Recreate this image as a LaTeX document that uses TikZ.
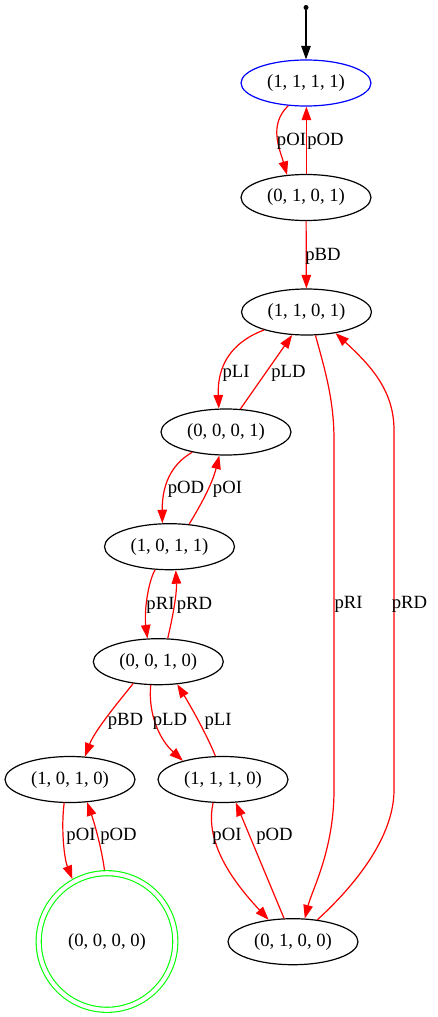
\documentclass[tikz,border=0pt]{standalone}
\usepackage{fontspec}
\setmainfont{Liberation Serif}
\usetikzlibrary{shapes.geometric,arrows.meta}
\definecolor{gvred}{RGB}{255,0,0}
\definecolor{gvgreen}{RGB}{0,255,0}
\definecolor{gvblue}{RGB}{0,0,255}
\begin{document}
\begin{tikzpicture}[x=1pt,y=-1pt,
  txt/.style={font=\fontsize{18.67}{22}\selectfont},
  state/.style={ellipse,draw=black,line width=1.2pt,minimum width=130pt,
    minimum height=46pt,inner sep=0pt,txt},
  final/.style={circle,draw=gvgreen,line width=1.1pt,double=white,
    double distance=4pt,outer sep=3.2pt,minimum size=136.6pt,inner sep=0pt,txt},
  tip/.style={-{Triangle[length=13.5pt,width=9.5pt]}},
  edge/.style={draw=gvred,line width=1.2pt,tip},
  elabel/.style={txt,text=black,inner sep=0pt}]
\useasboundingbox (0,0) rectangle (437,1017);

% states
\node[circle,fill=black,inner sep=0pt,minimum size=5pt] (start) at (306,7.5) {};
\node[state,draw=gvblue] (n1111) at (306,83) {(1, 1, 1, 1)};
\node[state] (n0101) at (306,197.5) {(0, 1, 0, 1)};
\node[state] (n1101) at (306.5,312) {(1, 1, 0, 1)};
\node[state] (n0001) at (226,432) {(0, 0, 0, 1)};
\node[state] (n1011) at (169.5,546.7) {(1, 0, 1, 1)};
\node[state] (n0010) at (158.3,661.7) {(0, 0, 1, 0)};
\node[state] (n1010) at (70,779.5) {(1, 0, 1, 0)};
\node[state] (n1110) at (223,779.5) {(1, 1, 1, 0)};
\node[final] (n0000) at (107,941.5) {(0, 0, 0, 0)};
\node[state] (n0100) at (293,941.7) {(0, 1, 0, 0)};

% initial arrow
\draw[black,line width=1.2pt,tip] (start) -- (n1111);

% transitions
\draw[edge] (n1111.232) .. controls (268,125) and (280,150) .. (n0101.130)
  node[elabel,at={(291.5,141.7)}] {pOI};
\draw[edge] (n0101.89) -- (n1111.271)
  node[elabel,at={(325.5,141.7)}] {pOD};
\draw[edge] (n0101) -- (n1101)
  node[elabel,at={(323,256)}] {pBD};
\draw[edge] (n1101.203) .. controls (232,342) and (217,365) .. (n0001.107)
  node[elabel,at={(236,373)}] {pLI};
\draw[edge] (n0001.58) -- (n1101.238)
  node[elabel,at={(288.5,373)}] {pLD};
\draw[edge] (n1101.291) .. controls (325,370) and (334,400) .. (334,440)
  -- (334,790) .. controls (334,850) and (312,890) .. (n0100.63)
  node[elabel,at={(348.5,604)}] {pRI};
\draw[edge] (n0100.42) .. controls (350,890) and (394,840) .. (394,790)
  -- (394,430) .. controls (394,390) and (370,365) .. (n1101.324)
  node[elabel,at={(409.5,604)}] {pRD};
\draw[edge] (n0001.211) .. controls (175,462) and (162,480) .. (n1011.107)
  node[elabel,at={(186,489)}] {pOD};
\draw[edge] (n1011.49) .. controls (199,508) and (212,485) .. (n0001.254)
  node[elabel,at={(227.5,489)}] {pOI};
\draw[edge] (n1011.238) .. controls (148,582) and (144,612) .. (n0010.115)
  node[elabel,at={(160.5,605)}] {pRI};
\draw[edge] (n0010.68) .. controls (172,620) and (177,595) .. (n1011.285)
  node[elabel,at={(194.5,605)}] {pRD};
\draw[edge] (n0010.221) .. controls (120,700) and (95,730) .. (n1010.57)
  node[elabel,at={(125.5,721)}] {pBD};
\draw[edge] (n0010.252) .. controls (148,715) and (160,740) .. (n1110.155)
  node[elabel,at={(170,721)}] {pLD};
\draw[edge] (n1110.108) .. controls (207,735) and (190,705) .. (n0010.310)
  node[elabel,at={(218,721)}] {pLI};
\draw[edge] (n1010.256) .. controls (61,828) and (64,858) .. (n0000.119)
  node[elabel,at={(81,836)}] {pOI};
\draw[edge] (n0000.92) .. controls (101,845) and (94,822) .. (n1010.307)
  node[elabel,at={(118.5,836)}] {pOD};
\draw[edge] (n1110.247) .. controls (206,835) and (222,870) .. (n0100.138)
  node[elabel,at={(227,836)}] {pOI};
\draw[edge] (n0100.111) -- (n1110.299)
  node[elabel,at={(274.5,836)}] {pOD};
\end{tikzpicture}
\end{document}
